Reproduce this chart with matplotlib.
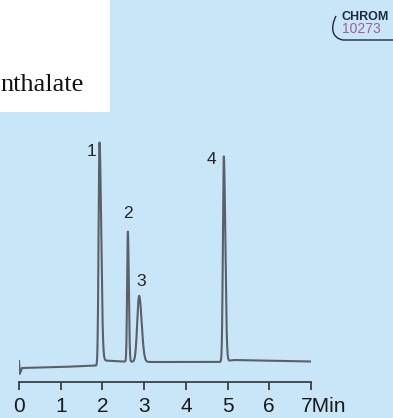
import matplotlib
matplotlib.use('Agg')
import matplotlib.pyplot as plt
from matplotlib.patches import Rectangle, PathPatch
from matplotlib.path import Path
from matplotlib.transforms import ScaledTranslation
import numpy as np

W, H = 393, 418
BG_CLR    = '#C8E6F8'   # pale blue panel
TRACE_CLR = '#5A6068'   # detector trace grey
AXIS_CLR  = '#3A3F46'
NAVY      = '#1C2A44'
MAUVE     = '#A0608C'

SANS = ['Liberation Sans', 'DejaVu Sans']

# ── Peak table (retention time in min, height, left/right width in min) ──
peak_ids     = ['1', '2', '3', '4']
peak_times   = [1.93, 2.61, 2.88, 4.91]
peak_heights = [222, 130, 66, 205]
sigma_left   = [0.022, 0.018, 0.045, 0.022]
sigma_right  = [0.040, 0.022, 0.060, 0.035]

# baseline drift anchors (time, level)
base_t = [0.0, 0.02, 0.07, 1.0, 1.9, 2.05, 2.45, 3.2, 4.8, 5.15, 7.0]
base_y = [6.0, -7.0, -1.0, 0.0, 1.5, 6.5, 5.5, 5.0, 5.0, 7.0, 5.5]

time_ticks  = [0, 1, 2, 3, 4, 5, 6, 7]
tick_labels = ['0', '1', '2', '3', '4', '5', '6', '7Min']


def fx(px):
    return px / W


def fy(py):
    return 1 - py / H


fig = plt.figure(figsize=(W / 100, H / 100), dpi=100)
fig.patch.set_facecolor(BG_CLR)

# white caption box with the compound name
fig.patches.append(Rectangle((0, fy(112)), fx(110), 112 / H,
                             transform=fig.transFigure, facecolor='white',
                             edgecolor='none', zorder=0))
fig.text(fx(0), fy(91), 'nthalate', fontsize=19, family='Liberation Serif',
         color='#111111', ha='left', va='baseline')

# CHROM badge
verts = [(336, 16), (330, 28), (332, 38), (343, 40), (393, 40)]
codes = [Path.MOVETO, Path.CURVE4, Path.CURVE4, Path.CURVE4, Path.LINETO]
badge = Path([(fx(x), fy(y)) for x, y in verts], codes)
fig.patches.append(PathPatch(badge, transform=fig.transFigure, fill=False,
                             edgecolor=NAVY, lw=1.0))
fig.text(fx(341), fy(17), 'CHROM', fontsize=9, family=SANS,
         fontweight='bold', color=NAVY, ha='left', va='center')
fig.text(fx(342), fy(29), '10273', fontsize=10, family=SANS,
         color=MAUVE, ha='left', va='center')

# chromatogram axes: t=0 at x=19 px, t=7 at x=311 px, time axis at y=382 px
ax = fig.add_axes([fx(19), fy(382), (311 - 19) / W, (382 - 112) / H])
ax.set_facecolor('none')

t = np.linspace(0, 7, 3000)
signal = np.interp(t, base_t, base_y)
for tr, h, sl, sr in zip(peak_times, peak_heights, sigma_left, sigma_right):
    s = np.where(t < tr, sl, sr)
    signal += h * np.exp(-0.5 * ((t - tr) / s) ** 2)

ax.plot(t, signal, color=TRACE_CLR, lw=1.5, solid_joinstyle='round')

label_dx = [-0.2, 0.0, 0.05, -0.3]
label_dy = [-6, 24, 19, 3]
for pid, tr, h, dx, dy in zip(peak_ids, peak_times, peak_heights,
                              label_dx, label_dy):
    ax.text(tr + dx, h + dy, pid, fontsize=12.5, family=SANS,
            color='#22262B', ha='center', va='center')

ax.set_xlim(0, 7)
ax.set_ylim(-15, 255)
ax.set_xticks(time_ticks)
ax.set_xticklabels(tick_labels, fontsize=15, family=SANS, color='#1A1A1A')
ax.tick_params(axis='x', direction='out', length=6, width=1.3,
               color=AXIS_CLR, pad=5)
ax.set_yticks([])
for side in ('top', 'right', 'left'):
    ax.spines[side].set_visible(False)
ax.spines['bottom'].set_color(AXIS_CLR)
ax.spines['bottom'].set_linewidth(1.3)

# last label carries the unit, pushed right so the "7" sits on its tick
last = ax.get_xticklabels()[-1]
last.set_transform(last.get_transform()
                   + ScaledTranslation(0.13, 0, fig.dpi_scale_trans))

fig.savefig('out.png', dpi=100, facecolor=BG_CLR)
plt.close()
